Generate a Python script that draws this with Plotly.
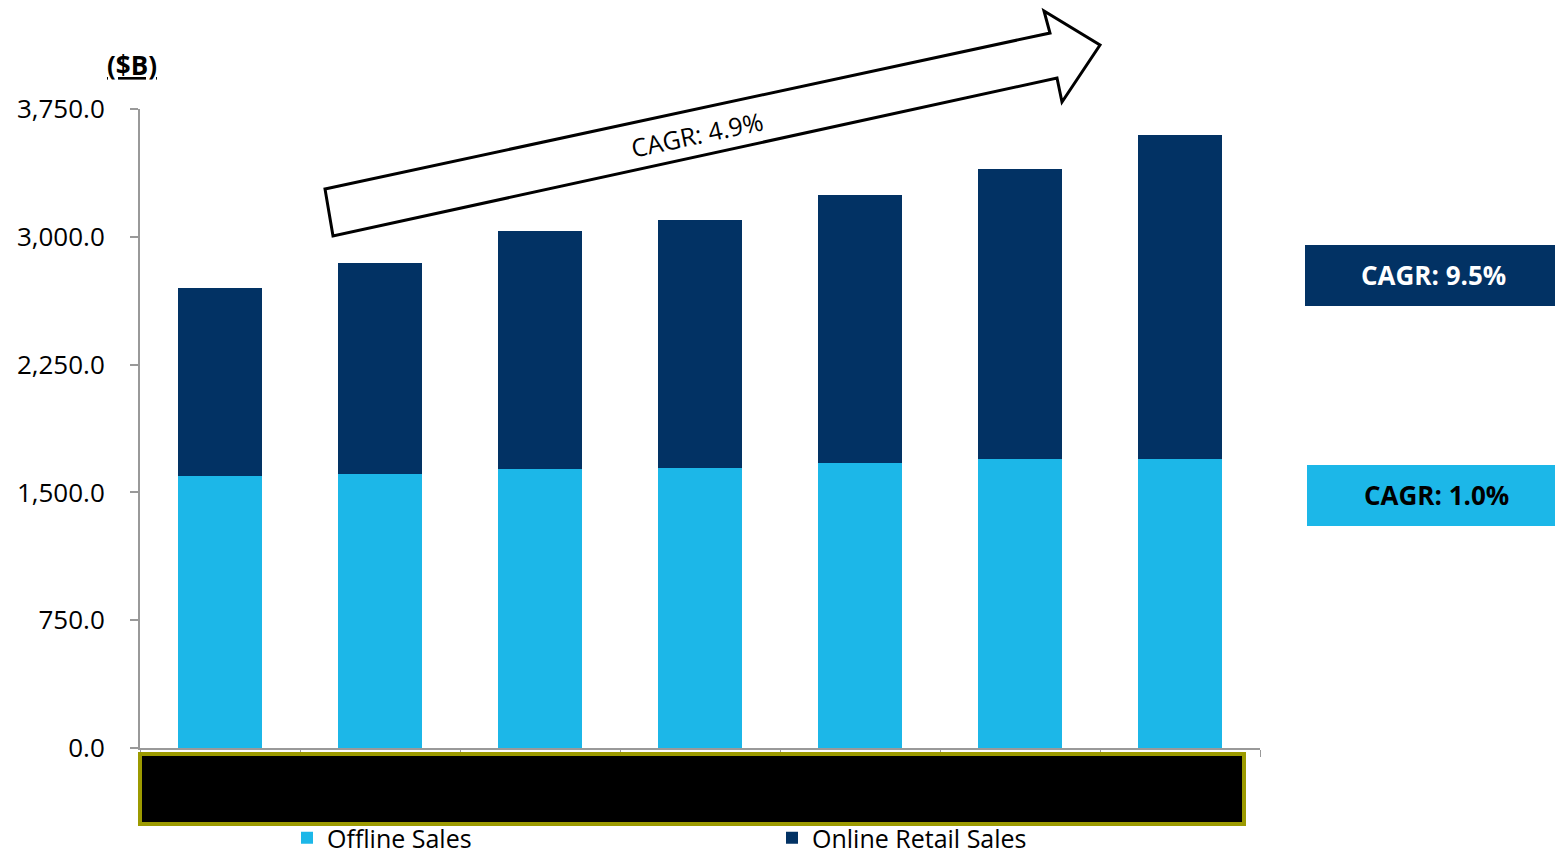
import plotly.graph_objects as go

categories = ["Y1", "Y2", "Y3", "Y4", "Y5", "Y6", "Y7"]
offline_sales = [1596, 1608, 1637, 1643, 1673, 1696, 1696]
online_sales = [1104, 1238, 1397, 1456, 1572, 1702, 1901]
y_ticks = [0, 750, 1500, 2250, 3000, 3750]

DARK = "#023264"
LIGHT = "#1cb7e8"
FONT = "Open Sans"

W, H = 1555, 854
L, R, T, B = 140, 1260, 109, 748


def fx(px):
    return (px - L) / (R - L)


def fy(py):
    return (B - py) / (B - T)


fig = go.Figure()
fig.add_trace(go.Bar(x=categories, y=offline_sales, name="Offline Sales",
                     marker=dict(color=LIGHT, line=dict(width=0))))
fig.add_trace(go.Bar(x=categories, y=online_sales, name="Online Retail Sales",
                     marker=dict(color=DARK, line=dict(width=0))))

# Arrow
pts = [(325, 189), (1050, 33), (1044, 11), (1100, 45), (1062, 102), (1057, 78), (333, 236)]
path = "M " + " L ".join(f"{fx(x):.5f},{fy(y):.5f}" for x, y in pts) + " Z"
shapes = [
    dict(type="path", xref="paper", yref="paper", path=path,
         fillcolor="white", line=dict(color="black", width=3), layer="above"),
    dict(type="rect", xref="paper", yref="paper",
         x0=fx(1305), x1=fx(1555), y0=fy(245), y1=fy(306),
         fillcolor=DARK, line=dict(width=0)),
    dict(type="rect", xref="paper", yref="paper",
         x0=fx(1307), x1=fx(1555), y0=fy(465), y1=fy(526),
         fillcolor=LIGHT, line=dict(width=0)),
    dict(type="rect", xref="paper", yref="paper",
         x0=fx(140), x1=fx(1244), y0=fy(754), y1=fy(824),
         fillcolor="black", line=dict(color="#9c9a00", width=4), layer="above"),
]

ann_common = dict(xref="paper", yref="paper", showarrow=False, xanchor="center", yanchor="middle")
annotations = [
    dict(x=fx(697), y=fy(134), text="CAGR: 4.9%", textangle=-12,
         font=dict(family=FONT, size=25, color="black"), **ann_common),
    dict(x=fx(1434), y=fy(275), text="<b>CAGR: 9.5%</b>",
         font=dict(family=FONT, size=26, color="white"), **ann_common),
    dict(x=fx(1436), y=fy(495), text="<b>CAGR: 1.0%</b>",
         font=dict(family=FONT, size=26, color="black"), **ann_common),
    dict(x=fx(132), y=fy(65), text="<b><u>($B)</u></b>",
         font=dict(family=FONT, size=26, color="black"), **ann_common),
]

fig.update_layout(
    width=W, height=H, autosize=False,
    margin=dict(l=L, r=W - R, t=T, b=H - B, pad=0, autoexpand=False),
    barmode="stack", bargap=0.475,
    plot_bgcolor="white", paper_bgcolor="white",
    font=dict(family=FONT, size=24, color="black"),
    shapes=shapes, annotations=annotations,
    showlegend=True,
    legend=dict(orientation="h", x=fx(287), y=fy(815), xanchor="left", yanchor="top",
                entrywidth=440, entrywidthmode="pixels", traceorder="normal",
                font=dict(family=FONT, size=25, color="black"), bgcolor="rgba(0,0,0,0)"),
    xaxis=dict(showticklabels=False, showline=True, linecolor="#999999", linewidth=2,
               ticks="outside", tickson="boundaries", ticklen=7, tickcolor="#999999",
               tickwidth=1, showgrid=False, zeroline=False),
    yaxis=dict(range=[0, 3750], tickvals=y_ticks, tickformat=",.1f",
               showline=True, linecolor="#999999", linewidth=2, ticks="outside",
               ticklen=8, tickcolor="#999999", tickwidth=2, showgrid=False, zeroline=False,
               ticklabelstandoff=20, tickfont=dict(family=FONT, size=26, color="black")),
)

fig.write_html("out.html")
